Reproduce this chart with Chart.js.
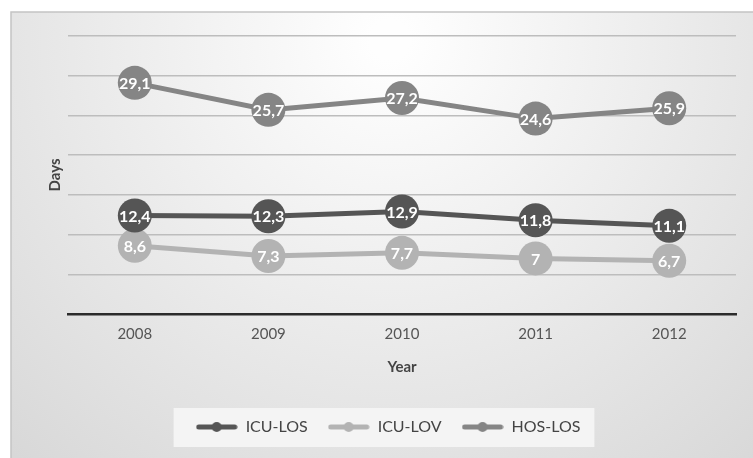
<!DOCTYPE html>
<html>
<head>
<meta charset="utf-8">
<script src="https://cdn.jsdelivr.net/npm/chart.js@4/dist/chart.umd.min.js"></script>
<style>
  html, body { margin: 0; padding: 0; background: #fff; }
  #wrap { width: 753px; height: 458px; }
</style>
</head>
<body>
<div id="wrap"><canvas id="grafico"></canvas></div>
<script>
// datos del gráfico
const years = ['2008', '2009', '2010', '2011', '2012'];
const icuLos = [12.4, 12.3, 12.9, 11.8, 11.1];
const icuLov = [8.6, 7.3, 7.7, 7, 6.7];
const hosLos = [29.1, 25.7, 27.2, 24.6, 25.9];
const seriesNames = ['ICU-LOS', 'ICU-LOV', 'HOS-LOS'];
const seriesColors = ['#555555', '#b3b3b3', '#858585'];

const FONT = 'Lato, "Open Sans", sans-serif';

// icono de leyenda: línea con punto
function legendIcon(color) {
  const c = document.createElement('canvas');
  c.width = 42; c.height = 12;
  const g = c.getContext('2d');
  g.strokeStyle = color;
  g.lineWidth = 5;
  g.lineCap = 'round';
  g.beginPath(); g.moveTo(3, 6); g.lineTo(39, 6); g.stroke();
  g.fillStyle = color;
  g.beginPath(); g.arc(21, 6, 5, 0, Math.PI * 2); g.fill();
  return c;
}

// fondo con degradado + caja de la leyenda
const fondo = {
  id: 'fondo',
  beforeDraw(chart) {
    const ctx = chart.ctx;
    const w = chart.width, h = chart.height;
    ctx.save();
    const grad = ctx.createRadialGradient(390, 40, 20, 390, 40, 560);
    grad.addColorStop(0, '#fefefe');
    grad.addColorStop(1, '#d8d8d8');
    ctx.fillStyle = grad;
    ctx.fillRect(11, 12, w - 11, h - 12);
    ctx.strokeStyle = '#c4c4c4';
    ctx.lineWidth = 1.5;
    ctx.strokeRect(11, 12, w, h);
    const boxes = chart.legend.legendHitBoxes;
    if (boxes && boxes.length) {
      const l = Math.min(...boxes.map(b => b.left)) - 22;
      const r = Math.max(...boxes.map(b => b.left + b.width)) + 14;
      const t = boxes[0].top - 11;
      const b = boxes[0].top + boxes[0].height + 12;
      ctx.fillStyle = 'rgba(244,244,244,0.95)';
      ctx.fillRect(l, t, r - l, b - t);
    }
    ctx.restore();
  }
};

// etiquetas de valor dentro de los puntos
const etiquetas = {
  id: 'etiquetas',
  afterDatasetsDraw(chart) {
    const ctx = chart.ctx;
    ctx.save();
    ctx.font = 'bold 16px ' + FONT;
    ctx.fillStyle = '#ffffff';
    ctx.textAlign = 'center';
    ctx.textBaseline = 'middle';
    chart.data.datasets.forEach((ds, i) => {
      const meta = chart.getDatasetMeta(i);
      meta.data.forEach((pt, j) => {
        const txt = String(ds.data[j]).replace('.', ',');
        ctx.fillText(txt, pt.x, pt.y + 1);
      });
    });
    ctx.restore();
  }
};

const datos = [icuLos, icuLov, hosLos];

new Chart(document.getElementById('grafico'), {
  type: 'line',
  data: {
    labels: years,
    datasets: datos.map((d, i) => ({
      label: seriesNames[i],
      data: d,
      borderColor: seriesColors[i],
      backgroundColor: seriesColors[i],
      borderWidth: 5,
      pointRadius: 17,
      pointHoverRadius: 17,
      pointBorderWidth: 0,
      tension: 0
    }))
  },
  options: {
    responsive: true,
    maintainAspectRatio: false,
    animation: false,
    layout: { padding: { left: 38, right: 15, top: 36, bottom: 13 } },
    plugins: {
      tooltip: { enabled: false },
      legend: {
        position: 'bottom',
        labels: {
          usePointStyle: true,
          pointStyleWidth: 42,
          padding: 20,
          color: '#444',
          font: { family: FONT, size: 16 },
          generateLabels(chart) {
            return chart.data.datasets.map((ds, i) => ({
              text: ds.label,
              pointStyle: legendIcon(seriesColors[i]),
              fontColor: '#444',
              datasetIndex: i,
              lineWidth: 0,
              hidden: false
            }));
          }
        }
      }
    },
    scales: {
      x: {
        offset: true,
        grid: { display: false, drawTicks: false, offset: true },
        border: { color: '#2b2b2b', width: 2.5 },
        ticks: { color: '#555', padding: 11, font: { family: FONT, size: 15 } },
        title: {
          display: true, text: 'Year', color: '#444',
          font: { family: FONT, size: 15, weight: 'bold' },
          padding: { top: 4, bottom: 23 }
        }
      },
      y: {
        min: 0, max: 35,
        ticks: { display: false, stepSize: 5 },
        grid: {
          drawTicks: false,
          lineWidth: 1.5,
          color: ctx => ctx.tick && ctx.tick.value === 0 ? 'rgba(0,0,0,0)' : '#bdbdbd'
        },
        border: { display: false },
        title: {
          display: true, text: 'Days', color: '#444',
          font: { family: FONT, size: 15, weight: 'bold' },
          padding: { top: 8, bottom: 0 }
        },
        afterFit(scale) { scale.width = 30; }
      }
    }
  },
  plugins: [fondo, etiquetas]
});
</script>
</body>
</html>
